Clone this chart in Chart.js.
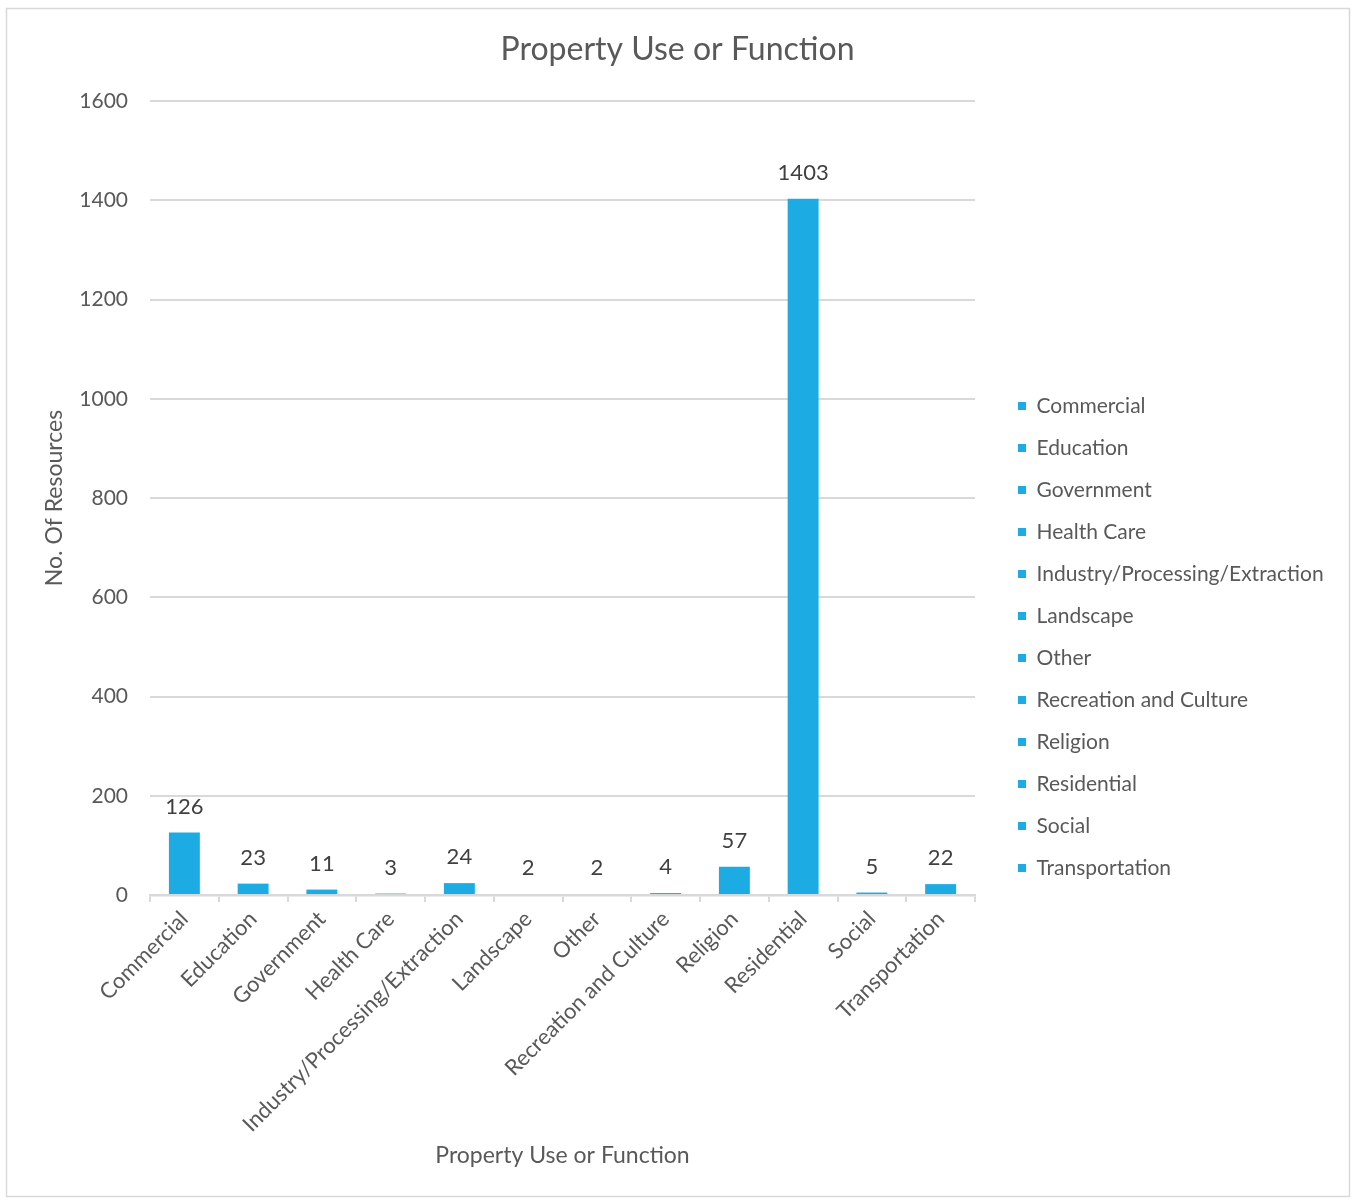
<!DOCTYPE html>
<html>
<head>
<meta charset="utf-8">
<script src="https://cdn.jsdelivr.net/npm/chart.js@4"></script>
<style>
html,body{margin:0;padding:0;background:#fff;}
#wrap{position:absolute;left:0;top:0;width:1355px;height:1201px;}
</style>
</head>
<body>
<div id="wrap"><canvas id="c" width="1355" height="1201"></canvas></div>
<script>
const chartTitle = 'Property Use or Function';
const categories = ["Commercial","Education","Government","Health Care","Industry/Processing/Extraction","Landscape","Other","Recreation and Culture","Religion","Residential","Social","Transportation"];
const resourceCounts = [126,23,11,3,24,2,2,4,57,1403,5,22];
const yTicks = [0,200,400,600,800,1000,1200,1400,1600];

const BAR = '#1CACE3';
const TXT = '#595959';
const GRID = '#d9d9d9';
const FONT = 'Lato, "Open Sans", sans-serif';

const borderPlugin = {
  id:'frame',
  afterLayout(chart){
    const lg = chart.legend;
    if(lg){ lg.left += 22; lg.right += 22; }
  },
  beforeDraw(chart){
    const ctx = chart.ctx;
    ctx.save();
    ctx.fillStyle='#fff';
    ctx.fillRect(0,0,chart.width,chart.height);
    ctx.strokeStyle=GRID;
    ctx.lineWidth=1.5;
    ctx.strokeRect(6.5,8.5,1343,1188);
    ctx.fillStyle=TXT;
    ctx.font='32px '+FONT;
    ctx.textAlign='center';
    ctx.textBaseline='middle';
    ctx.fillText(chartTitle, chart.width/2, 50);
    ctx.restore();
  }
};
const labelPlugin = {
  id:'barLabels',
  afterDatasetsDraw(chart){
    const ctx = chart.ctx;
    const meta = chart.getDatasetMeta(0);
    ctx.save();
    ctx.fillStyle = '#404040';
    ctx.font = '22px ' + FONT;
    ctx.textAlign='center';
    ctx.textBaseline='middle';
    meta.data.forEach((el,i)=>{
      ctx.fillText(String(chart.data.datasets[0].data[i]), el.x, el.y - 26);
    });
    ctx.restore();
  }
};

new Chart(document.getElementById('c'), {
  type:'bar',
  data:{
    labels:categories,
    datasets:[{
      label:'No. Of Resources',
      data:resourceCounts,
      backgroundColor:BAR,
      borderWidth:0,
      barPercentage:0.45,
      categoryPercentage:1.0
    }]
  },
  options:{
    responsive:false,
    animation:false,
    devicePixelRatio:1,
    layout:{padding:{top:101,left:20,right:6,bottom:28}},
    plugins:{
      title:{display:false},
      legend:{
        display:true,position:'right',
        labels:{
          color:TXT,font:{family:FONT,size:21},boxWidth:8,boxHeight:8,padding:21,
          generateLabels(chart){
            return chart.data.labels.map((l,i)=>({text:l,fillStyle:BAR,strokeStyle:BAR,lineWidth:0,hidden:false,index:i,datasetIndex:0,fontColor:TXT}));
          }
        },
        onClick(){}
      },
      tooltip:{enabled:false}
    },
    scales:{
      x:{
        afterFit(scale){scale.paddingLeft=0;scale.paddingRight=380;},
        grid:{display:true,drawOnChartArea:false,drawTicks:true,tickLength:7,offset:true,color:GRID,lineWidth:2},
        border:{display:true,color:GRID,width:2.5},
        ticks:{color:TXT,font:{family:FONT,size:22},maxRotation:45,minRotation:45,padding:4,autoSkip:false},
        title:{display:true,text:'Property Use or Function',color:TXT,font:{family:FONT,size:23},padding:{top:0,bottom:4}}
      },
      y:{
        min:0,max:1600,
        afterBuildTicks(scale){scale.ticks = yTicks.map(v=>({value:v}));},
        afterFit(scale){scale.width = 130;},
        grid:{color:GRID,lineWidth:2,drawTicks:false},
        border:{display:false},
        ticks:{color:TXT,font:{family:FONT,size:21},padding:22,callback:(v)=>String(v)},
        title:{display:true,text:'No. Of Resources',color:TXT,font:{family:FONT,size:23},padding:{top:21,bottom:9}}
      }
    }
  },
  plugins:[borderPlugin,labelPlugin]
});
</script>
</body>
</html>
